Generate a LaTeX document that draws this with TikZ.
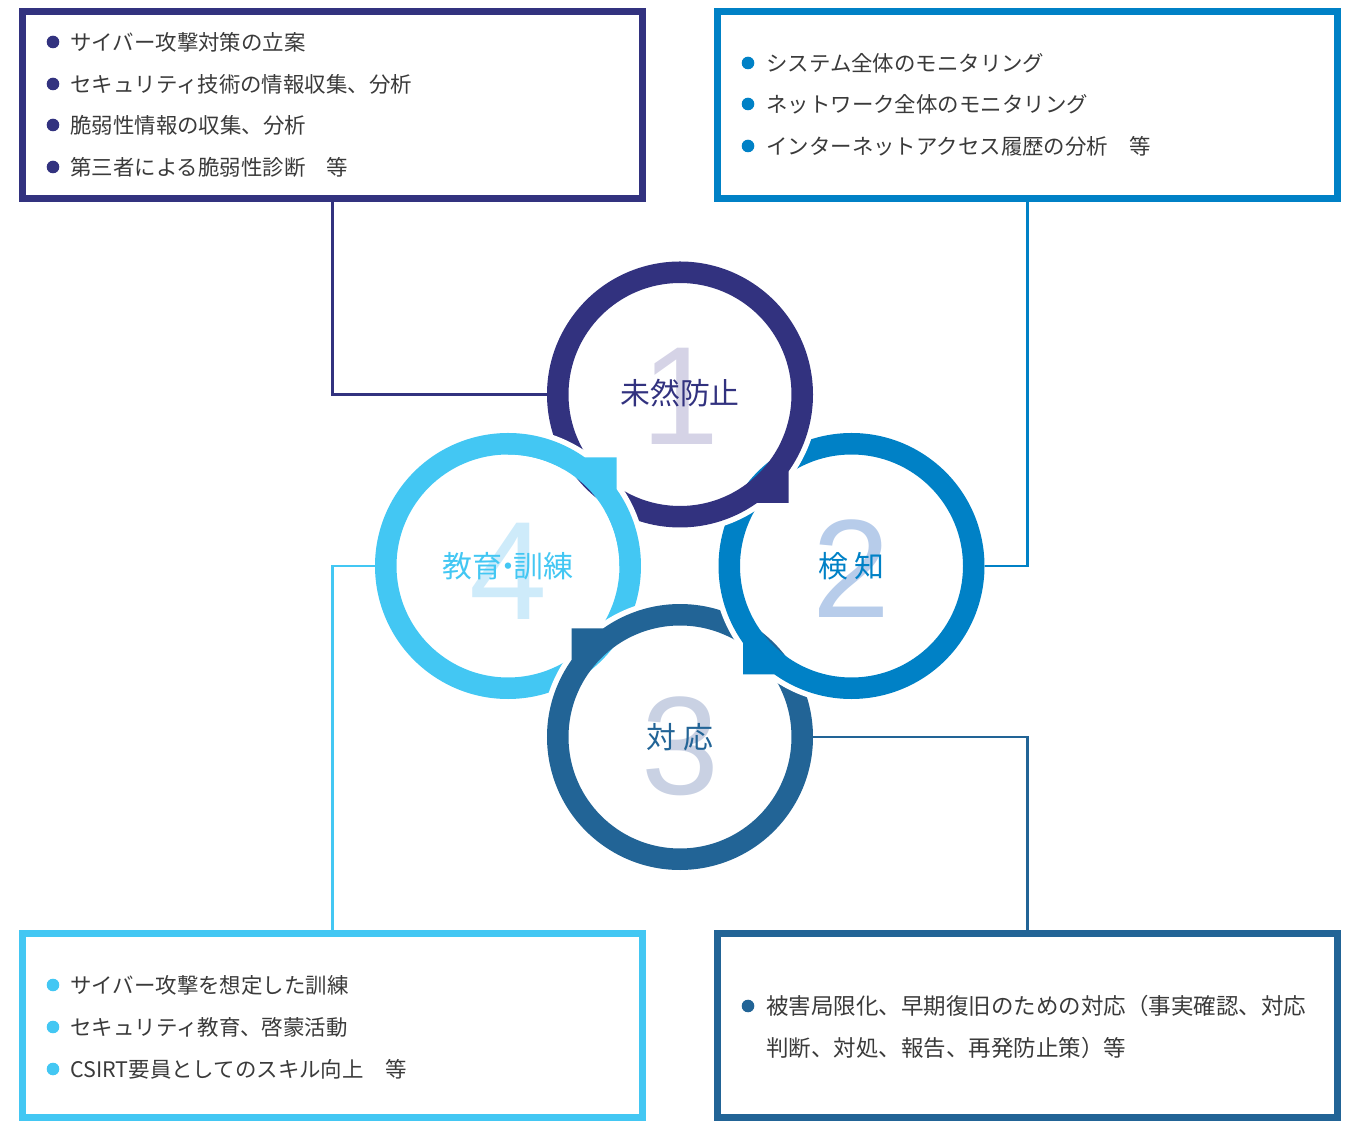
\documentclass[tikz,border=0pt]{standalone}
\usepackage{fontspec}
\usepackage{tikz}
\usetikzlibrary{calc}
\newfontfamily\jp{Noto Sans CJK JP}
\newfontfamily\numfont{Liberation Sans}
\definecolor{prevcol}{HTML}{32327F}
\definecolor{detcol}{HTML}{0081C6}
\definecolor{respcol}{HTML}{226496}
\definecolor{traincol}{HTML}{43C7F3}
\definecolor{textgrey}{HTML}{3A3A3A}
\definecolor{numone}{HTML}{D5D3E6}
\definecolor{numtwo}{HTML}{B7CCEA}
\definecolor{numthree}{HTML}{C9D1E3}
\definecolor{numfour}{HTML}{CEEBFA}
\tikzset{
  infobox/.style={
    rectangle,
    draw=#1, line width=3.98pt,
    minimum width=352.8pt, minimum height=106.4pt,
    inner sep=0pt
  },
  item/.style={anchor=west, inner sep=0pt, text=textgrey,
    font=\jp\fontsize{12.2pt}{14pt}\selectfont},
  ringnode/.style={circle, minimum size=151.4pt, inner sep=0pt},
  ringlabel/.style={text=#1, inner sep=0pt,
    font=\jp\fontsize{17pt}{20pt}\selectfont},
  bignum/.style={text=#1, inner sep=0pt,
    font=\numfont\fontsize{79.7pt}{80pt}\selectfont},
  link/.style={draw=#1, line width=1.25pt},
}
% ring with a square tab: #1 centre, #2 direction of the tab, #3 colour
\newcommand{\drawring}[3]{%
  \draw[white, line width=6.26pt] ($(#1)+(#2+9.67:133)$)
    arc[start angle=#2+9.67, end angle=#2+350.33, radius=133]
    -- ($(#1)+(#2:153.44)$) -- cycle;
  \fill[#3, even odd rule] ($(#1)+(#2+9.67:133)$)
    arc[start angle=#2+9.67, end angle=#2+350.33, radius=133]
    -- ($(#1)+(#2:153.44)$) -- cycle
    (#1) circle[radius=111.5];
}
\begin{document}
\begin{tikzpicture}[x=0.02cm,y=0.02cm]
  \useasboundingbox (0,-1121) rectangle (1357,0);

  \coordinate (c1) at (680,-394.5);
  \coordinate (c2) at (851.5,-566);
  \coordinate (c3) at (680,-737);
  \coordinate (c4) at (508,-566);

  % the four boxes
  \node[infobox=prevcol] (box1) at (332.5,-105) {};
  \node[infobox=detcol] (box2) at (1027.5,-105) {};
  \node[infobox=traincol, minimum height=104.7pt] (box3) at (332.5,-1025.5) {};
  \node[infobox=respcol, minimum height=104.7pt] (box4) at (1027.5,-1025.5) {};

  \node[item] (p1) at (70,-42) {サイバー攻撃対策の立案};
  \node[item] (p2) at (70,-84) {セキュリティ技術の情報収集、分析};
  \node[item] (p3) at (70,-125) {脆弱性情報の収集、分析};
  \node[item] (p4) at (70,-167) {第三者による脆弱性診断　等};
  \foreach \y in {42,84,125,167}
    \fill[prevcol] (53,-\y) circle[radius=6.3];

  \node[item] (d1) at (766,-63) {システム全体のモニタリング};
  \node[item] (d2) at (766,-104) {ネットワーク全体のモニタリング};
  \node[item] (d3) at (766,-146) {インターネットアクセス履歴の分析　等};
  \foreach \y in {63,104,146}
    \fill[detcol] (748,-\y) circle[radius=6.3];

  \node[item] (t1) at (70,-985) {サイバー攻撃を想定した訓練};
  \node[item] (t2) at (70,-1027) {セキュリティ教育、啓蒙活動};
  \node[item] (t3) at (70,-1069) {CSIRT要員としてのスキル向上　等};
  \foreach \y in {985,1027,1069}
    \fill[traincol] (53,-\y) circle[radius=6.3];

  \node[item, font=\jp\fontsize{12.8pt}{14pt}\selectfont] (r1) at (766,-1006)
    {被害局限化、早期復旧のための対応（事実確認、対応};
  \node[item, font=\jp\fontsize{12.8pt}{14pt}\selectfont] (r2) at (766,-1048)
    {判断、対処、報告、再発防止策）等};
  \fill[respcol] (748,-1006) circle[radius=6.3];

  % interlocked rings
  \drawring{c4}{45}{traincol}
  \drawring{c3}{135}{respcol}
  \drawring{c2}{-135}{detcol}
  \drawring{c1}{-45}{prevcol}
  \begin{scope}
    \clip (c4) rectangle ++(200,200);
    \drawring{c4}{45}{traincol}
  \end{scope}

  \node[ringnode] (ring1) at (c1) {};
  \node[ringnode] (ring2) at (c2) {};
  \node[ringnode] (ring3) at (c3) {};
  \node[ringnode] (ring4) at (c4) {};

  \node[bignum=numone] (n1) at ($(c1)+(0,-1.5)$) {1};
  \node[bignum=numtwo] (n2) at ($(c2)+(0,-3)$) {2};
  \node[bignum=numthree] (n3) at ($(c3)+(0,-9)$) {3};
  \node[bignum=numfour] (n4) at ($(c4)+(0,-5)$) {4};

  \node[ringlabel=prevcol] (l1) at ($(c1)+(0,1.5)$) {未然防止};
  \node[ringlabel=detcol] (l2) at (c2) {検 知};
  \node[ringlabel=respcol] (l3) at (c3) {対 応};
  \node[ringlabel=traincol] (l4) at (c4) {教育\kern-0.3em・\kern-0.3em訓練};

  % connectors
  \draw[link=prevcol] (box1.south) |- (ring1.west);
  \draw[link=detcol] (box2.south) |- (ring2.east);
  \draw[link=respcol] (ring3.east) -| (box4.north);
  \draw[link=traincol] (ring4.west) -| (box3.north);
\end{tikzpicture}
\end{document}
